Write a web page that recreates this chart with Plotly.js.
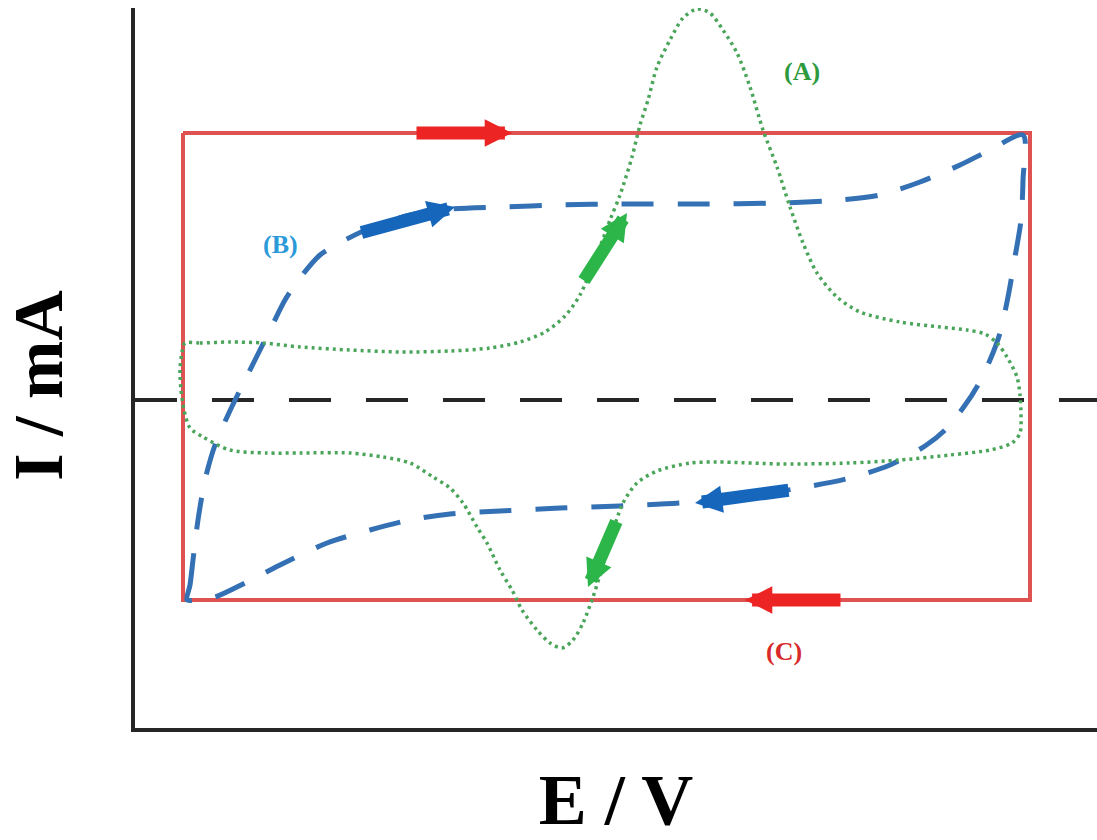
<!DOCTYPE html>
<html>
<head>
<meta charset="utf-8">
<script src="https://cdn.plot.ly/plotly-3.0.1.min.js"></script>
<style>html,body{margin:0;padding:0;background:#fff;}#chart{width:1097px;height:840px;}</style>
</head>
<body>
<div id="chart"></div>
<script>
// (A) green dotted CV loop
const greenE = [0.50,0.65,0.95,1.28,1.65,2.15,2.65,3.15,3.55,3.85,4.10,4.30,4.45,4.60,4.75,4.85,4.97,5.05,5.13,5.22,5.35,5.48,5.62,5.75,5.88,6.02,6.15,6.28,6.42,6.55,6.68,6.82,7.02,7.25,7.65,8.05,8.32,8.50,8.62,8.72,8.82,8.85,8.86,8.85,8.77,8.55,8.15,7.65,7.15,6.48,5.82,5.55,5.22,5.02,4.88,4.75,4.65,4.58,4.48,4.38,4.27,4.15,4.02,3.87,3.77,3.65,3.52,3.42,3.28,3.15,2.98,2.75,2.48,2.15,1.65,1.32,0.95,0.68,0.55,0.49,0.46,0.45,0.47,0.50];
const greenI = [0.57,0.57,0.58,0.57,0.53,0.50,0.48,0.49,0.52,0.58,0.68,0.84,1.05,1.40,1.80,2.05,2.43,2.75,3.00,3.33,3.60,3.82,3.91,3.87,3.70,3.47,3.13,2.70,2.33,1.93,1.57,1.27,1.03,0.88,0.78,0.73,0.70,0.66,0.57,0.43,0.23,0.05,-0.15,-0.33,-0.43,-0.50,-0.55,-0.60,-0.63,-0.64,-0.62,-0.63,-0.71,-0.83,-1.03,-1.40,-1.75,-1.97,-2.23,-2.40,-2.48,-2.43,-2.30,-2.10,-1.90,-1.70,-1.43,-1.27,-1.03,-0.88,-0.77,-0.63,-0.57,-0.53,-0.53,-0.53,-0.50,-0.37,-0.28,-0.10,0.10,0.30,0.48,0.57];

// (B) blue dashed loop
const blueE = [0.52,0.55,0.58,0.63,0.70,0.80,0.93,1.05,1.20,1.35,1.50,1.65,1.85,2.10,2.40,2.75,3.15,3.65,4.25,4.85,5.65,6.45,7.05,7.45,7.85,8.25,8.55,8.88,8.88,8.86,8.80,8.73,8.65,8.55,8.43,8.28,8.10,7.90,7.55,7.15,6.65,6.05,5.45,4.85,4.25,3.65,3.15,2.75,2.35,1.92,1.45,1.10,0.80,0.60,0.52];
const blueI = [-2.00,-1.85,-1.60,-1.20,-0.80,-0.45,-0.15,0.10,0.40,0.70,1.00,1.22,1.45,1.60,1.74,1.85,1.91,1.93,1.95,1.96,1.96,1.97,2.00,2.05,2.18,2.35,2.50,2.65,2.20,1.80,1.43,1.03,0.67,0.40,0.15,-0.08,-0.30,-0.46,-0.65,-0.78,-0.88,-0.97,-1.03,-1.06,-1.08,-1.11,-1.14,-1.20,-1.30,-1.43,-1.65,-1.83,-1.97,-2.00,-2.00];

// (C) red rectangular loop
const redE = [0.48,8.95,8.95,0.48,0.48];
const redI = [2.67,2.67,-2.00,-2.00,2.67];

// zero current reference line
const zeroE = [0, 9.62];
const zeroI = [0, 0];

// direction arrows: [tailE, tailI, headE, headI]
const redArrows   = [[2.80,2.67,3.77,2.67],[7.07,-2.00,6.10,-2.00]];
const blueArrows  = [[2.25,1.67,3.20,1.93],[6.55,-0.90,5.60,-1.03]];
const greenArrows = [[4.48,1.18,4.92,1.87],[4.82,-1.20,4.53,-1.87]];

// curve labels: [text, E, I]
const curveLabels = [["(A)",6.67,3.29],["(B)",1.45,1.56],["(C)",6.49,-2.51]];

const xTitle = "E / V";
const yTitle = "I / mA&nbsp;&nbsp;";

const serif = "Liberation Serif, Times New Roman, serif";

const traces = [
  {x: zeroE, y: zeroI, mode: "lines", line: {color: "#262626", width: 4, dash: "42px,35px"}, hoverinfo: "skip"},
  {x: redE, y: redI, mode: "lines", line: {color: "#de5252", width: 4}, name: "(C)"},
  {x: blueE, y: blueI, mode: "lines", line: {color: "#3470b4", width: 5, dash: "32px,24px", shape: "spline", smoothing: 0.8}, name: "(B)"},
  {x: greenE, y: greenI, mode: "lines", line: {color: "#4aa55a", width: 3.5, dash: "3px,4px", shape: "spline", smoothing: 0.8}, name: "(A)"}
];

function arrowAnn(a, color) {
  return {x: a[2], y: a[3], ax: a[0], ay: a[1], xref: "x", yref: "y", axref: "x", ayref: "y",
    showarrow: true, arrowhead: 2, arrowsize: 0.42, arrowwidth: 13, arrowcolor: color, text: "", standoff: 0};
}

const annotations = [];
redArrows.forEach(a => annotations.push(arrowAnn(a, "#ec2424")));
blueArrows.forEach(a => annotations.push(arrowAnn(a, "#1666bb")));
greenArrows.forEach(a => annotations.push(arrowAnn(a, "#2cb548")));
const labelColors = ["#2e9a3e", "#2a9ad8", "#d82a2a"];
curveLabels.forEach((c, i) => annotations.push({
  x: c[1], y: c[2], xref: "x", yref: "y", text: c[0], showarrow: false,
  font: {family: serif, size: 26, color: labelColors[i], weight: "bold"}
}));

const layout = {
  width: 1097, height: 840,
  margin: {l: 135, r: 0, t: 8, b: 112},
  paper_bgcolor: "#ffffff", plot_bgcolor: "#ffffff",
  showlegend: false,
  xaxis: {range: [0, 9.62], showgrid: false, zeroline: false, showticklabels: false, ticks: "",
    showline: true, linecolor: "#262626", linewidth: 4,
    title: {text: xTitle, standoff: 50, font: {family: serif, size: 72, color: "#000", weight: "bold"}}},
  yaxis: {range: [-3.28, 3.92], showgrid: false, zeroline: false, showticklabels: false, ticks: "",
    showline: true, linecolor: "#262626", linewidth: 4,
    title: {text: yTitle, standoff: 66, font: {family: serif, size: 70, color: "#000", weight: "bold"}}},
  annotations: annotations
};

Plotly.newPlot("chart", traces, layout, {displayModeBar: false, staticPlot: true});
</script>
</body>
</html>
